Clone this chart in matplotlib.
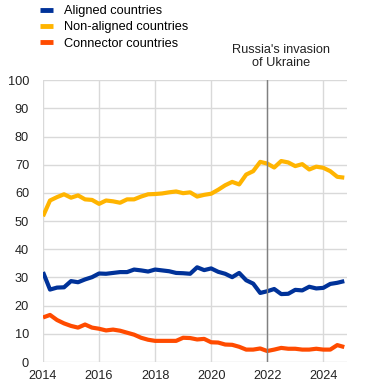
import numpy as np
import matplotlib
matplotlib.use('Agg')
import matplotlib.pyplot as plt

plt.rcParams['font.family'] = ['Liberation Sans', 'DejaVu Sans']

# quarterly, 2014Q1 - 2024Q4
dates = 2014 + np.arange(44) * 0.25

aligned = [31.9, 25.7, 26.4, 26.5, 28.7, 28.3, 29.3, 30.1, 31.4, 31.3, 31.6, 31.9,
           31.9, 32.8, 32.5, 32.1, 32.8, 32.5, 32.2, 31.6, 31.5, 31.3, 33.6, 32.6,
           33.2, 32.0, 31.3, 30.1, 31.6, 29.0, 27.8, 24.5, 25.1, 25.9, 24.1, 24.2,
           25.6, 25.4, 26.7, 26.1, 26.3, 27.7, 28.1, 28.7]
non_aligned = [51.7, 57.3, 58.5, 59.5, 58.3, 59.1, 57.7, 57.5, 56.1, 57.3, 57.0, 56.5,
               57.7, 57.7, 58.7, 59.5, 59.6, 59.8, 60.2, 60.5, 59.9, 60.2, 58.7, 59.3,
               59.7, 61.1, 62.7, 63.9, 63.0, 66.5, 67.7, 71.0, 70.4, 69.0, 71.3, 70.8,
               69.5, 70.2, 68.3, 69.3, 68.9, 67.7, 65.7, 65.4]
connector = [15.8, 16.7, 14.9, 13.7, 12.8, 12.2, 13.3, 12.2, 11.8, 11.2, 11.5, 11.1,
             10.4, 9.7, 8.6, 7.9, 7.5, 7.5, 7.5, 7.5, 8.6, 8.5, 8.0, 8.2,
             7.0, 6.9, 6.2, 6.1, 5.4, 4.4, 4.4, 4.8, 3.9, 4.4, 5.0, 4.7,
             4.7, 4.4, 4.4, 4.7, 4.4, 4.4, 6.0, 5.3]

labels = ['Aligned countries', 'Non-aligned countries', 'Connector countries']
colors = ['#003299', '#FFB400', '#FF4B00']
xticks = [2014, 2016, 2018, 2020, 2022, 2024]
yticks = list(range(0, 101, 10))

fig = plt.figure(figsize=(3.72, 3.89), dpi=100)
ax = fig.add_axes([0.1156, 0.0694, 0.8174, 0.7246])

for y, lab, c in zip([aligned, non_aligned, connector], labels, colors):
    ax.plot(dates, y, color=c, lw=3, label=lab, solid_capstyle='butt')

ax.axvline(2022, color='#808080', lw=1, zorder=3)
ax.text(2022.5, 104, "Russia's invasion\nof Ukraine", ha='center', va='bottom',
        fontsize=9.2, color='#222222', linespacing=1.15)

ax.set_xlim(2014, 2024.85)
ax.set_ylim(0, 100)
ax.set_xticks(xticks)
ax.set_yticks(yticks)
ax.grid(True, color='#d9d9d9', lw=1)
ax.set_axisbelow(True)
for s in ax.spines.values():
    s.set_visible(False)
ax.tick_params(length=0, labelsize=9.2, colors='#222222')
ax.tick_params(axis='y', pad=10)
ax.tick_params(axis='x', pad=6)

leg = fig.legend(loc='upper left', bbox_to_anchor=(0.095, 1.0), frameon=False,
                 fontsize=9.2, handlelength=0.95, handletextpad=0.9, labelspacing=0.33,
                 borderaxespad=0)
for h in leg.get_lines():
    h.set_linewidth(3.5)

fig.savefig('out.png', dpi=100)
